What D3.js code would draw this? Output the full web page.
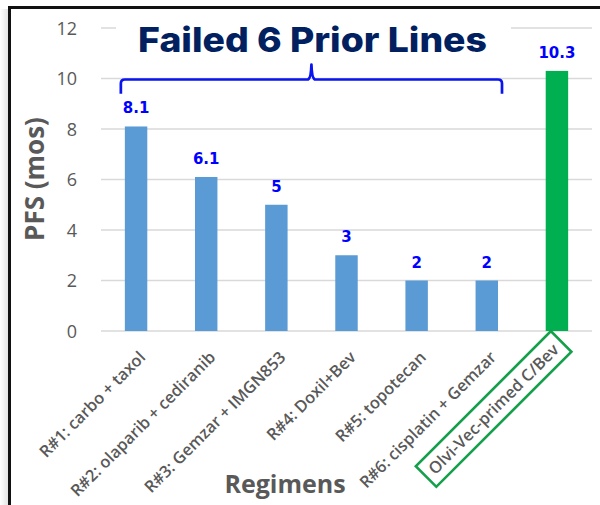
<!DOCTYPE html>
<html>
<head>
<meta charset="utf-8">
<script src="https://cdn.jsdelivr.net/npm/d3@7"></script>
<style>
  html, body { margin: 0; padding: 0; background: #fff; }
  svg { display: block; }
</style>
</head>
<body>
<svg id="chart" width="600" height="505"></svg>
<script>
// PFS by treatment regimen
const regimens = [
  "R#1: carbo + taxol",
  "R#2: olaparib + cediranib",
  "R#3: Gemzar + IMGN853",
  "R#4: Doxil+Bev",
  "R#5: topotecan",
  "R#6: cisplatin + Gemzar",
  "Olvi-Vec-primed C/Bev"
];
const pfsMonths = [8.1, 6.1, 5, 3, 2, 2, 10.3];
const valueLabels = ["8.1", "6.1", "5", "3", "2", "2", "10.3"];
const yTicks = [0, 2, 4, 6, 8, 10, 12];
const titleText = "Failed 6 Prior Lines";
const priorCount = 6;

const svg = d3.select("#chart");
const W = 600, H = 505;
const plot = { left: 101, right: 592, top: 28, bottom: 331 };

const grey = "#595959";
const blue = "#5B9BD5";
const green = "#00B050";
const boxGreen = "#14A04A";
const labelBlue = "#0000FF";

// frame: soft shadow strip and black top/left rules
const defs = svg.append("defs");
const grad = defs.append("linearGradient").attr("id", "shadow")
  .attr("x1", "0").attr("x2", "1").attr("y1", "0").attr("y2", "0");
grad.append("stop").attr("offset", "0").attr("stop-color", "#ffffff");
grad.append("stop").attr("offset", "1").attr("stop-color", "#e4e4e4");
svg.append("rect").attr("x", 0).attr("y", 9).attr("width", 8).attr("height", H - 9)
  .attr("fill", "url(#shadow)");
svg.append("line").attr("x1", 9.5).attr("x2", 9.5).attr("y1", 6).attr("y2", H)
  .attr("stroke", "#111").attr("stroke-width", 3);
svg.append("line").attr("x1", 8).attr("x2", W).attr("y1", 7.5).attr("y2", 7.5)
  .attr("stroke", "#111").attr("stroke-width", 3);

const x = d3.scaleBand()
  .domain(regimens)
  .range([plot.left, plot.right])
  .paddingInner(0.68)
  .paddingOuter(0.34);

const y = d3.scaleLinear()
  .domain([0, 12])
  .range([plot.bottom, plot.top]);

// horizontal gridlines
svg.append("g").selectAll("line")
  .data(yTicks)
  .join("line")
  .attr("x1", plot.left).attr("x2", plot.right)
  .attr("y1", d => y(d)).attr("y2", d => y(d))
  .attr("stroke", "#D9D9D9").attr("stroke-width", 1.5);

// y axis tick labels
const yAxis = d3.axisLeft(y).tickValues(yTicks).tickSize(0).tickPadding(0);
const gy = svg.append("g").attr("transform", "translate(77,0)").call(yAxis);
gy.select(".domain").remove();
gy.selectAll("text")
  .attr("font-family", "'Open Sans', sans-serif")
  .attr("font-size", 18)
  .attr("fill", grey)
  .attr("dy", "0.34em")
  .attr("text-anchor", "end");

// bars
svg.append("g").selectAll("rect")
  .data(regimens)
  .join("rect")
  .attr("x", d => x(d))
  .attr("width", x.bandwidth())
  .attr("y", (d, i) => y(pfsMonths[i]))
  .attr("height", (d, i) => y(0) - y(pfsMonths[i]))
  .attr("fill", (d, i) => i === regimens.length - 1 ? green : blue);

// value labels
svg.append("g").selectAll("text")
  .data(regimens)
  .join("text")
  .attr("x", d => x(d) + x.bandwidth() / 2)
  .attr("y", (d, i) => y(pfsMonths[i]) - 13)
  .attr("text-anchor", "middle")
  .attr("font-family", "'DejaVu Sans', sans-serif")
  .attr("font-weight", "bold")
  .attr("font-size", 15)
  .attr("fill", labelBlue)
  .text((d, i) => valueLabels[i]);

// rotated category labels
const tickY = 350;
const cats = svg.append("g");
regimens.forEach((name, i) => {
  const cx = x(name) + x.bandwidth() / 2 + 2;
  const g = cats.append("g").attr("transform", `translate(${cx},${tickY}) rotate(-45)`);
  const last = i === regimens.length - 1;
  const t = g.append("text")
    .attr("font-family", "'Open Sans', sans-serif")
    .attr("font-weight", 600)
    .attr("font-size", 16.4)
    .attr("fill", grey)
    .text(name);
  if (!last) {
    t.attr("text-anchor", "end").attr("dy", "0.72em");
  } else {
    // highlighted regimen sits in an outlined box
    t.attr("text-anchor", "middle").attr("dy", "0.35em")
      .attr("x", -88).attr("y", -4.5);
    const bb = t.node().getBBox();
    const pad = Math.max(6, (191 - bb.width) / 2);
    g.insert("rect", "text")
      .attr("x", bb.x - pad).attr("y", -19)
      .attr("width", bb.width + 2 * pad).attr("height", 29)
      .attr("fill", "none")
      .attr("stroke", boxGreen).attr("stroke-width", 2.6);
  }
});

// axis titles
svg.append("text")
  .attr("transform", "translate(44,179) rotate(-90)")
  .attr("text-anchor", "middle")
  .attr("font-family", "'Open Sans', sans-serif")
  .attr("font-weight", "bold")
  .attr("font-size", 26)
  .attr("fill", grey)
  .text("PFS (mos)");

svg.append("text")
  .attr("x", 285).attr("y", 493)
  .attr("text-anchor", "middle")
  .attr("font-family", "'Open Sans', sans-serif")
  .attr("font-weight", "bold")
  .attr("font-size", 25)
  .attr("fill", grey)
  .text("Regimens");

// brace spanning the prior-line regimens
const bx0 = x(regimens[0]) - 4;
const bx1 = x(regimens[priorCount - 1]) + x.bandwidth() + 4;
const bm = (bx0 + bx1) / 2;
const by = y(9.96);
const byLow = y(9.4);
const byTip = y(10.55);
const r = 4;
const brace = d3.path();
brace.moveTo(bx0, byLow);
brace.lineTo(bx0, by + r);
brace.quadraticCurveTo(bx0, by, bx0 + r, by);
brace.lineTo(bm - 4, by);
brace.quadraticCurveTo(bm - 0.5, by, bm, byTip);
brace.quadraticCurveTo(bm + 0.5, by, bm + 4, by);
brace.lineTo(bx1 - r, by);
brace.quadraticCurveTo(bx1, by, bx1, by + r);
brace.lineTo(bx1, byLow);
svg.append("path")
  .attr("d", brace.toString())
  .attr("fill", "none")
  .attr("stroke", "#0A14F0")
  .attr("stroke-width", 2.7)
  .attr("stroke-linejoin", "round");

// headline on a white panel
svg.append("rect")
  .attr("x", 116).attr("y", 14).attr("width", 395).attr("height", 48)
  .attr("fill", "#fff");
svg.append("text")
  .attr("x", 312.5).attr("y", 52)
  .attr("text-anchor", "middle")
  .attr("font-family", "Inter, 'DejaVu Sans', sans-serif")
  .attr("font-weight", 800)
  .attr("font-size", 34)
  .attr("fill", "#002060")
  .attr("textLength", 349)
  .attr("lengthAdjust", "spacingAndGlyphs")
  .text(titleText);
</script>
</body>
</html>
